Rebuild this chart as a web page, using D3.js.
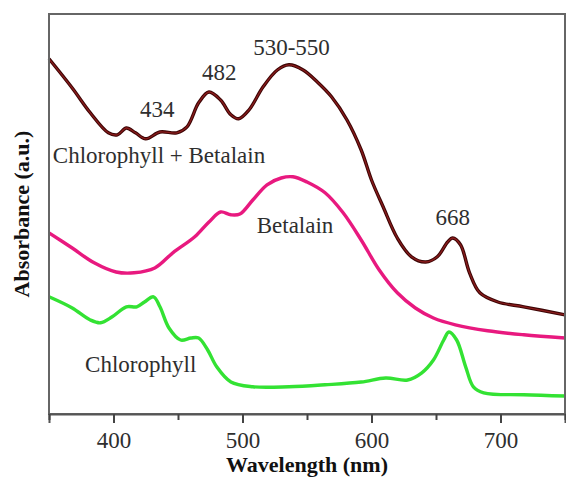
<!DOCTYPE html>
<html>
<head>
<meta charset="utf-8">
<script src="https://cdn.jsdelivr.net/npm/d3@7"></script>
<style>
  body { margin: 0; background: #fff; }
  svg { display: block; }
</style>
</head>
<body>
<svg id="chart"></svg>
<script>
// Chart size
const width = 566;
const height = 479;
const margin = { top: 14, right: 1, bottom: 65, left: 49 };

// Wavelength (nm) and absorbance (a.u.)
const mixWl = [350, 368, 382, 396, 403, 410, 417, 425, 436, 449, 457, 466, 474, 483, 491, 497, 505, 516, 527, 536, 547, 558, 569, 581, 592, 600, 609, 620, 631, 642, 651, 659, 663, 669, 676, 684, 698, 718, 750];
const mixAbs = [88.8, 81.5, 75.3, 70.3, 69.8, 71.5, 70.3, 68.8, 70.5, 70.3, 71.8, 77.8, 80.5, 78.5, 74.8, 73.8, 76.0, 81.8, 86.0, 87.3, 86.0, 83.0, 79.3, 73.5, 66.0, 58.5, 51.8, 44.0, 39.3, 38.0, 39.3, 43.0, 44.0, 42.3, 35.3, 30.3, 28.0, 26.8, 24.8];

const betWl = [350, 368, 385, 402, 416, 432, 446, 463, 474, 483, 491, 498, 508, 519, 530, 539, 550, 564, 578, 592, 606, 620, 634, 648, 665, 690, 718, 750];
const betAbs = [45.3, 41.5, 37.8, 35.5, 35.3, 36.5, 40.3, 44.3, 48.0, 50.5, 49.8, 50.0, 53.5, 57.3, 59.0, 59.3, 58.0, 55.3, 50.3, 43.5, 36.0, 30.3, 26.5, 24.0, 22.3, 20.8, 19.8, 19.0];

const chlWl = [350, 368, 382, 390, 399, 410, 418, 424, 431, 436, 443, 452, 460, 466, 473, 480, 491, 508, 536, 564, 592, 611, 628, 639, 648, 656, 660, 666, 673, 679, 687, 718, 750];
const chlAbs = [29.3, 26.5, 23.5, 22.8, 24.3, 26.8, 26.8, 28.0, 29.3, 26.8, 21.5, 18.5, 19.0, 19.0, 16.0, 11.8, 8.0, 6.8, 6.8, 7.3, 8.0, 9.0, 8.5, 10.3, 13.5, 18.5, 20.5, 18.5, 11.8, 6.8, 5.3, 4.8, 4.5];

// Tick values
const majorTicks = [400, 500, 600, 700];
const minorTicks = [350, 450, 550, 650, 750];

// Annotations: [text, wavelength, absorbance]
const peakLabels = [
  ["434", 434, 74.3],
  ["482", 482, 83.5],
  ["530-550", 538, 89.8],
  ["668", 663, 47.3]
];
const seriesLabels = [
  ["Chlorophyll + Betalain", 353, 62.8],
  ["Betalain", 511, 45.3],
  ["Chlorophyll", 378, 10.5]
];

const series = [
  { wl: mixWl, abs: mixAbs, color: "#3c0505", inner: "#8a1c1c" },
  { wl: betWl, abs: betAbs, color: "#e8197f", inner: null },
  { wl: chlWl, abs: chlAbs, color: "#33e233", inner: null }
];

const svg = d3.select("#chart")
  .attr("width", width)
  .attr("height", height);

const x = d3.scaleLinear()
  .domain([350, 750])
  .range([margin.left, width - margin.right]);

const y = d3.scaleLinear()
  .domain([0, 100])
  .range([height - margin.bottom, margin.top]);

const serif = "'Liberation Serif', 'Times New Roman', serif";

// Curves
const line = d3.line()
  .x(d => x(d[0]))
  .y(d => y(d[1]))
  .curve(d3.curveCatmullRom.alpha(0.5));

series.forEach(s => {
  const pts = s.wl.map((w, i) => [w, s.abs[i]]);
  svg.append("path")
    .datum(pts)
    .attr("fill", "none")
    .attr("stroke", s.color)
    .attr("stroke-width", 3.4)
    .attr("stroke-linejoin", "round")
    .attr("d", line);
  // the brown trace has a lighter core
  if (s.inner) {
    svg.append("path")
      .datum(pts)
      .attr("fill", "none")
      .attr("stroke", s.inner)
      .attr("stroke-width", 1.3)
      .attr("stroke-linejoin", "round")
      .attr("d", line);
  }
});

// Frame
svg.append("rect")
  .attr("x", x(350))
  .attr("y", y(100))
  .attr("width", x(750) - x(350))
  .attr("height", y(0) - y(100))
  .attr("fill", "none")
  .attr("stroke", "#666")
  .attr("stroke-width", 2);

// X axis, major ticks with labels
const xAxis = svg.append("g")
  .attr("transform", `translate(0,${y(0)})`)
  .call(d3.axisBottom(x).tickValues(majorTicks).tickSize(9).tickPadding(9).tickFormat(d3.format("d")));
xAxis.select(".domain").attr("stroke", "#555").attr("stroke-width", 2);
xAxis.selectAll(".tick line").attr("stroke", "#444").attr("stroke-width", 2);
xAxis.selectAll(".tick text")
  .attr("fill", "#2e2e2e")
  .style("font-family", serif)
  .style("font-size", "23px");

// Minor ticks
const xMinor = svg.append("g")
  .attr("transform", `translate(0,${y(0)})`)
  .call(d3.axisBottom(x).tickValues(minorTicks).tickSize(6).tickFormat(""));
xMinor.select(".domain").remove();
xMinor.selectAll(".tick line").attr("stroke", "#444").attr("stroke-width", 2);

// Axis titles
svg.append("text")
  .attr("x", (x(350) + x(750)) / 2)
  .attr("y", 472)
  .attr("text-anchor", "middle")
  .attr("fill", "#111")
  .style("font-family", serif)
  .style("font-weight", "bold")
  .style("font-size", "22px")
  .text("Wavelength (nm)");

svg.append("text")
  .attr("transform", `translate(29,${(y(0) + y(100)) / 2}) rotate(-90)`)
  .attr("text-anchor", "middle")
  .attr("fill", "#111")
  .style("font-family", serif)
  .style("font-weight", "bold")
  .style("font-size", "22px")
  .text("Absorbance (a.u.)");

// Peak annotations
svg.selectAll(".peak")
  .data(peakLabels)
  .enter().append("text")
  .attr("class", "peak")
  .attr("x", d => x(d[1]))
  .attr("y", d => y(d[2]))
  .attr("text-anchor", "middle")
  .attr("fill", "#2e2e2e")
  .style("font-family", serif)
  .style("font-size", "23px")
  .text(d => d[0]);

// Series names
svg.selectAll(".name")
  .data(seriesLabels)
  .enter().append("text")
  .attr("class", "name")
  .attr("x", d => x(d[1]))
  .attr("y", d => y(d[2]))
  .attr("fill", "#2e2e2e")
  .style("font-family", serif)
  .style("font-size", "23px")
  .text(d => d[0]);
</script>
</body>
</html>
